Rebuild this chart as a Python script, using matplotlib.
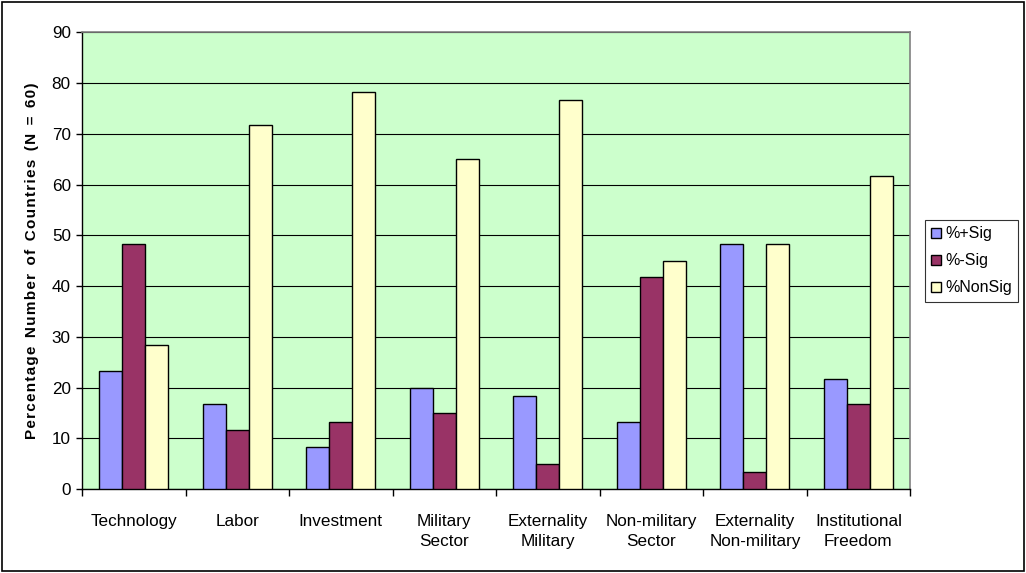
import numpy as np
import matplotlib.pyplot as plt
from matplotlib.patches import Rectangle

plt.rcParams['font.family'] = ['Liberation Sans', 'DejaVu Sans']

categories = ['Technology', 'Labor', 'Investment', 'Military\nSector',
              'Externality\nMilitary', 'Non-military\nSector',
              'Externality\nNon-military', 'Institutional\nFreedom']
# percentages of the 60 countries
pos_sig = [23.3, 16.7, 8.3, 20.0, 18.3, 13.3, 48.3, 21.7]
neg_sig = [48.3, 11.7, 13.3, 15.0, 5.0, 41.7, 3.3, 16.7]
non_sig = [28.3, 71.7, 78.3, 65.0, 76.7, 45.0, 48.3, 61.7]
series_names = ['%+Sig', '%-Sig', '%NonSig']
colors = ['#9999FF', '#993366', '#FFFFCC']

fig = plt.figure(figsize=(10.26, 5.73), dpi=100)
ax = fig.add_axes([0.0799, 0.1466, 0.8072, 0.7967])
ax.set_facecolor('#CCFFCC')

x = np.arange(len(categories))
w = 0.222
for i, (vals, name, c) in enumerate(zip([pos_sig, neg_sig, non_sig], series_names, colors)):
    ax.bar(x + (i - 1) * w, vals, w, color=c, edgecolor='black', linewidth=1.0,
           label=name, zorder=3)

ax.set_xlim(-0.5, len(categories) - 0.5)
ax.set_ylim(0, 90)
ax.set_yticks(range(0, 91, 10))
ax.yaxis.grid(True, color='black', linewidth=0.8, zorder=1)
ax.tick_params(axis='y', direction='out', length=4, width=1, labelsize=12.3, pad=4)

# category names centred, ticks at the boundaries
ax.set_xticks(x)
ax.set_xticklabels(categories, fontsize=12.3, linespacing=1.45)
ax.tick_params(axis='x', which='major', length=0, pad=18)
ax.set_xticks(np.arange(-0.5, len(categories)), minor=True)
ax.tick_params(axis='x', which='minor', direction='out', length=5, width=1)

for side in ['left', 'bottom']:
    ax.spines[side].set_color('black')
    ax.spines[side].set_linewidth(1.0)
for side in ['top', 'right']:
    ax.spines[side].set_color('#808080')
    ax.spines[side].set_linewidth(1.2)

# spread-out bold axis title
ytitle = 'Percentage Number of Countries (N = 60)'
spaced = '  '.join('\u200a'.join(word) for word in ytitle.split(' '))
ax.set_ylabel(spaced, fontsize=11, fontweight='bold', labelpad=9)

leg = ax.legend(loc='center left', bbox_to_anchor=(1.018, 0.5), fontsize=11.5,
                frameon=True, fancybox=False, edgecolor='black', handlelength=0.6,
                handleheight=0.6, handletextpad=0.25, labelspacing=0.75,
                borderpad=0.4, borderaxespad=0)
leg.get_frame().set_linewidth(0.8)

# outer chart border
fig.patches.append(Rectangle((0.002, 0.003), 0.996, 0.994, transform=fig.transFigure,
                             fill=False, edgecolor='black', linewidth=1.2))

fig.savefig('out.png', dpi=100)
